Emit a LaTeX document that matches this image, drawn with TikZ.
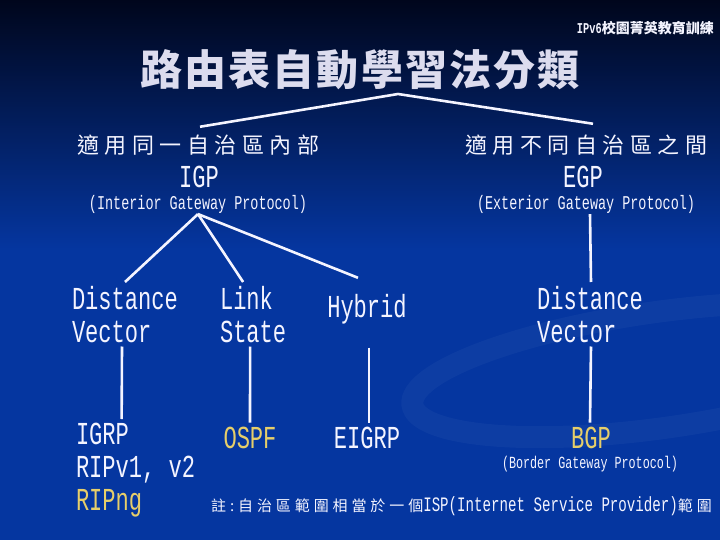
\documentclass[tikz,border=0pt]{standalone}
\usepackage{fontspec}
\usepackage{xcolor}
\usetikzlibrary{positioning}
\newfontfamily\cjk{Noto Sans CJK TC}
\newfontfamily\cjkwide{Noto Sans CJK TC}[LetterSpace=25]
\newfontfamily\cjktitle{Noto Sans CJK TC}[LetterSpace=5]
\newfontfamily\cjknote{Noto Sans CJK TC}[LetterSpace=26]
\newfontfamily\latin{Liberation Mono}[FakeStretch=0.69]
\definecolor{bgtop}{HTML}{00061C}
\definecolor{bgmid}{HTML}{062877}
\definecolor{bgbot}{HTML}{0536A0}
\definecolor{ink}{HTML}{F4F4FF}
\definecolor{titlefg}{HTML}{DCDCEE}
\definecolor{goldtext}{HTML}{E6CE6A}

\begin{document}
\begin{tikzpicture}[
  x=1pt, y=-1pt,
  every node/.style={inner sep=0pt, text=ink},
  branch/.style={draw=ink, line width=2.6pt},
  termbig/.style={font=\latin\fontsize{32}{33}\selectfont, align=left, outer sep=4pt},
  termsmall/.style={font=\latin\fontsize{19.5}{20}\selectfont, outer sep=1pt},
  zhhead/.style={font=\cjkwide\fontsize{22}{22}\selectfont, outer sep=8pt},
  gold/.style={text=goldtext}
]
  % slide background
  \useasboundingbox (0,0) rectangle (720,540);
  \fill[bgbot] (0,0) rectangle (720,540);
  \shade[top color=bgtop, middle color=bgmid, bottom color=bgbot] (0,0) rectangle (720,250);
  \draw[white, opacity=0.035, line width=22pt, rotate around={8:(660,370)}] (660,370) ellipse [x radius=250, y radius=58];

  % heading
  \node[anchor=east, font=\bfseries] (banner) at (714,28)
    {{\latin\fontsize{15}{15}\selectfont IPv6}{\cjk\fontsize{14}{14}\selectfont 校園菁英教育訓練}};
  \node[text=titlefg, font=\cjktitle\bfseries\fontsize{42}{42}\selectfont] (title) at (360,70) {路由表自動學習法分類};

  % two families
  \coordinate (apex) at (398,94);
  \node[zhhead] (igpzh) at (198,145) {適用同一自治區內部};
  \node[termbig, anchor=base] (igp) at (199,188) {IGP};
  \node[termsmall] (igpfull) at (198,204) {(Interior Gateway Protocol)};
  \node[zhhead] (egpzh) at (586,145) {適用不同自治區之間};
  \node[termbig, anchor=base] (egp) at (583,188) {EGP};
  \node[termsmall] (egpfull) at (586,204) {(Exterior Gateway Protocol)};

  % algorithm kinds
  \node[termbig, anchor=north west] (dvl) at (68,282) {Distance\\Vector};
  \node[termbig, anchor=north west] (ls) at (216,282) {Link\\State};
  \node[termbig, anchor=base] (hybrid) at (367,317) {Hybrid};
  \node[termbig, anchor=north west] (dvr) at (533,282) {Distance\\Vector};

  % protocols
  \node[termbig, anchor=north west] (igrp) at (72,419) {IGRP\\RIPv1, v2\\\textcolor{goldtext}{RIPng}};
  \node[termbig, gold, anchor=base] (ospf) at (250,448) {OSPF};
  \node[termbig, anchor=base] (eigrp) at (367,448) {EIGRP};
  \node[termbig, gold, anchor=base] (bgp) at (591,448) {BGP};
  \node[font=\latin\fontsize{17}{17}\selectfont] (bgpfull) at (590,464) {(Border Gateway Protocol)};
  \node[anchor=base west] (note) at (211,511)
    {{\cjknote\fontsize{15}{15}\selectfont 註:自治區範圍相當於一個}{\latin\fontsize{20.5}{20}\selectfont ISP(Internet Service Provider)}{\cjknote\fontsize{15}{15}\selectfont 範圍}};

  % tree
  \draw[branch] ([xshift=2pt]igpzh.north) -- (apex) -- ([xshift=7pt,yshift=3pt]egpzh.north);
  \draw[branch] (igpfull.south) -- (dvl.north);
  \draw[branch] (igpfull.south) -- ([xshift=-10pt]ls.north);
  \draw[branch] (igpfull.south) -- ([xshift=-9pt,yshift=12pt]hybrid.north);
  \draw[branch] ([xshift=4pt]egpfull.south) -- ([xshift=1pt]dvr.north);
  \draw[branch] ([xshift=-3pt]dvl.south) -- ([xshift=-14pt]igrp.north);
  \draw[branch] ([xshift=-3pt]ls.south) -- (ospf.north);
  \draw[branch] ([xshift=2pt,yshift=-20pt]hybrid.south) -- ([xshift=2pt]eigrp.north);
  \draw[branch] ([xshift=1pt]dvr.south) -- ([xshift=-1pt]bgp.north);
\end{tikzpicture}
\end{document}
